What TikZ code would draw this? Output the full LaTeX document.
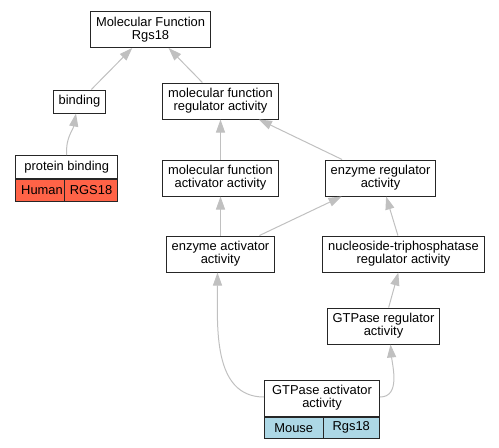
\documentclass[tikz,border=0pt]{standalone}
\usepackage{fontspec}
\setmainfont{Liberation Sans}
\usepackage{tikz}
\usetikzlibrary{arrows.meta,positioning}

\definecolor{edgegray}{RGB}{192,192,192}
\definecolor{humanred}{RGB}{255,99,71}
\definecolor{mouseblue}{RGB}{173,216,230}

\begin{document}
\begin{tikzpicture}[%
on grid,
term/.style={draw=black!85,line width=1pt,fill=white,rectangle,align=center,
  inner xsep=5.5pt,inner ysep=0pt,minimum height=36pt,
  font=\fontsize{12.9pt}{13pt}\selectfont},
single/.style={term,minimum height=23pt},
cell/.style={term,minimum height=21.5pt,fill=#1},
link/.style={color=edgegray,line width=1pt,
  -{Triangle[length=13pt,width=9pt]}}
]
\useasboundingbox (0,0) rectangle (499pt,-448pt);

\node[term] (mf) at (150.5pt,-29.5pt) {Molecular Function\\Rgs18};
\node[single] (binding) [below left=72pt and 71pt of mf] {binding};
\node[term] (mfra) [below right=71.5pt and 70pt of mf] {molecular function\\regulator activity};
\node[single,minimum width=102pt] (pb) [below left=65.5pt and 12.8pt of binding] {protein binding};
\node[cell=humanred,minimum width=51pt,anchor=north west] (pbsp) at (pb.south west) {Human};
\node[cell=humanred,minimum width=51pt,anchor=north east] (pbgene) at (pb.south east) {RGS18};
\node[term,minimum width=115pt] (mfaa) [below=77pt of mfra] {molecular function\\activator activity};
\node[term] (era) [right=160pt of mfaa] {enzyme regulator\\activity};
\node[term] (eaa) [below=76pt of mfaa] {enzyme activator\\activity};
\node[term] (ntra) [below right=76pt and 23pt of era] {nucleoside-triphosphatase\\regulator activity};
\node[term] (gra) [below left=72pt and 20pt of ntra] {GTPase regulator\\activity};
\node[term,minimum width=115pt] (gaa) [below left=72pt and 61.5pt of gra] {GTPase activator\\activity};
\node[cell=mouseblue,minimum width=58.5pt,anchor=north west] (gaasp) at (gaa.south west) {Mouse};
\node[cell=mouseblue,minimum width=56.5pt,anchor=north east] (gaagene) at (gaa.south east) {Rgs18};

\path (binding) edge[link] (mf);
\path (mfra) edge[link] (mf);
\path (pb.north) edge[link,out=95,in=-100] ([xshift=-3.5pt]binding.south);
\path (mfaa) edge[link] (mfra);
\path (era) edge[link] (mfra);
\path (eaa) edge[link] (mfaa);
\path (eaa) edge[link] (era);
\path (ntra) edge[link] (era);
\path (gra) edge[link] (ntra);
\path ([yshift=1pt]gaa.west) edge[link,out=180,in=-90] ([xshift=-3pt]eaa.south);
\path ([yshift=1pt]gaa.east) edge[link,out=0,in=-85] ([xshift=7pt]gra.south);

\end{tikzpicture}
\end{document}
